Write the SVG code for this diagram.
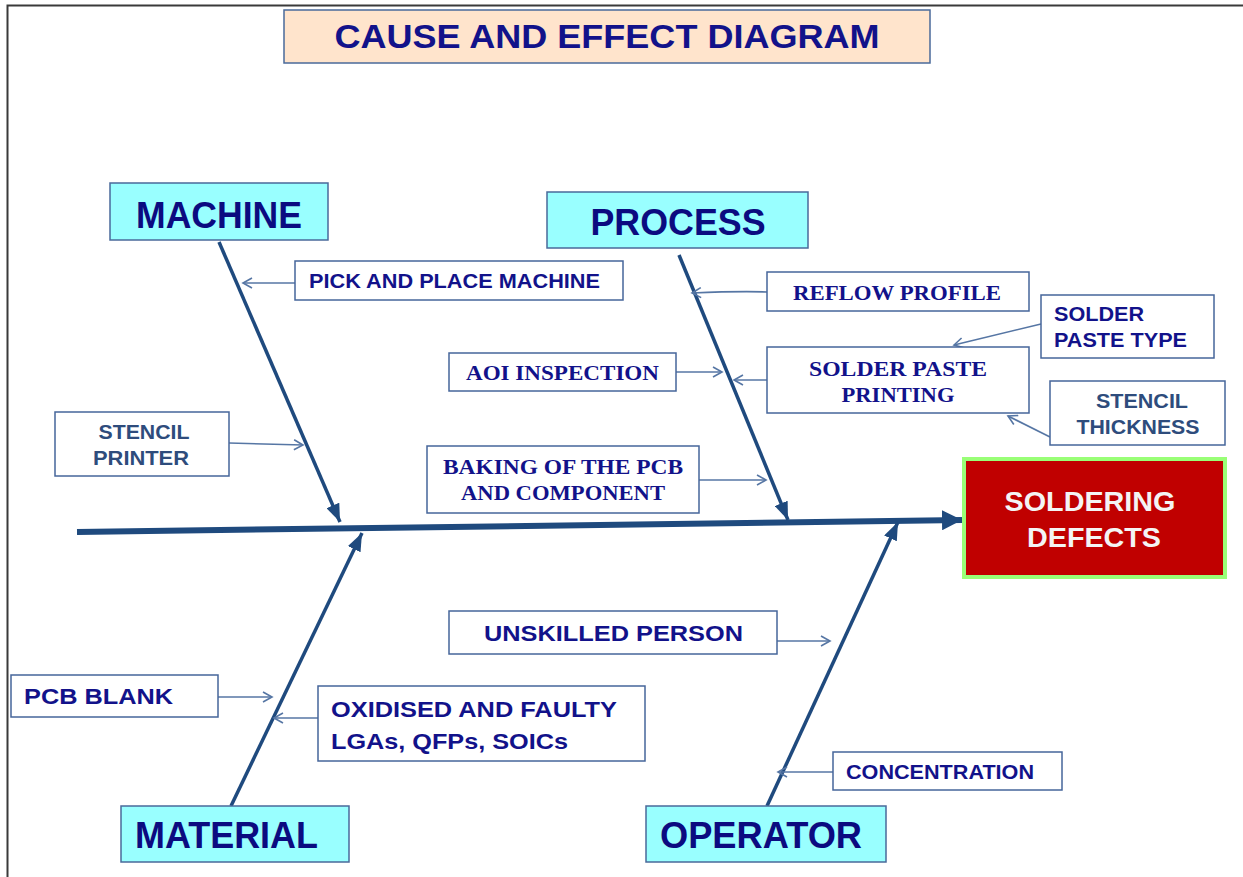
<svg xmlns="http://www.w3.org/2000/svg" width="1243" height="877" viewBox="0 0 1243 877">
<style>
.frame{fill:none;stroke:#3a3a3a;stroke-width:2}
.cat{fill:#99FFFF;stroke:#4a6a9a;stroke-width:1.5}
.box{fill:#ffffff;stroke:#46669a;stroke-width:1.5}
.catt{font-family:"Liberation Sans",Arial,sans-serif;font-weight:bold;font-size:36px;fill:#0b0b80}
.sans{font-family:"Liberation Sans",Arial,sans-serif;font-weight:bold;fill:#12128a}
.serif{font-family:"Liberation Serif","Times New Roman",serif;font-weight:bold;fill:#12128a}
.muted{fill:#2e4c7c}
.bone{stroke:#1f4a7e;stroke-width:3.5;fill:none}
.spine{stroke:#1f4a7e;stroke-width:6;fill:none}
.sub{stroke:#5676a4;stroke-width:1.6;fill:none}
</style>
<defs>
<marker id="big" markerUnits="userSpaceOnUse" markerWidth="22" markerHeight="20" refX="20" refY="10" orient="auto">
<path d="M0,0 L20,10 L0,20 Z" fill="#1f4a7e"/>
</marker>
<marker id="bn" markerUnits="userSpaceOnUse" markerWidth="20" markerHeight="14" refX="18" refY="7" orient="auto">
<path d="M0,0 L18,7 L0,14 Z" fill="#1f4a7e"/>
</marker>
<marker id="open" markerUnits="userSpaceOnUse" markerWidth="12" markerHeight="12" refX="10" refY="6" orient="auto">
<path d="M1,1 L10,6 L1,11" fill="none" stroke="#5676a4" stroke-width="1.6"/>
</marker>
</defs>
<rect width="1243" height="877" fill="#ffffff"/>
<path class="frame" d="M7.5,877 L7.5,5.5 L1243,5.5"/>

<g id="title">
<rect x="284" y="10" width="646" height="53" fill="#FFE4CC" stroke="#4a6a9a" stroke-width="1.5"/>
<text x="607" y="48" text-anchor="middle" class="sans" font-size="33" fill="#0b0b80" textLength="545" lengthAdjust="spacingAndGlyphs">CAUSE AND EFFECT DIAGRAM</text>
</g>

<g id="connectors">
<line class="spine" x1="77" y1="532" x2="962" y2="520" marker-end="url(#big)"/>
<line class="bone" x1="219" y1="242" x2="340" y2="522" marker-end="url(#bn)"/>
<line class="bone" x1="679" y1="255" x2="788" y2="520" marker-end="url(#bn)"/>
<line class="bone" x1="231" y1="806" x2="362" y2="533" marker-end="url(#bn)"/>
<line class="bone" x1="767" y1="806" x2="898" y2="522" marker-end="url(#bn)"/>
<line class="sub" x1="295" y1="283" x2="243" y2="283" marker-end="url(#open)"/>
<path class="sub" d="M767,292 Q740,291 692,293" marker-end="url(#open)"/>
<line class="sub" x1="1041" y1="324" x2="954" y2="345" marker-end="url(#open)"/>
<line class="sub" x1="676" y1="372" x2="722" y2="372" marker-end="url(#open)"/>
<line class="sub" x1="767" y1="380" x2="734" y2="380" marker-end="url(#open)"/>
<line class="sub" x1="1050" y1="437" x2="1008" y2="416" marker-end="url(#open)"/>
<line class="sub" x1="229" y1="443" x2="303" y2="445" marker-end="url(#open)"/>
<line class="sub" x1="699" y1="480" x2="766" y2="480" marker-end="url(#open)"/>
<line class="sub" x1="777" y1="641" x2="830" y2="641" marker-end="url(#open)"/>
<line class="sub" x1="218" y1="697" x2="272" y2="697" marker-end="url(#open)"/>
<line class="sub" x1="318" y1="718" x2="274" y2="718" marker-end="url(#open)"/>
<line class="sub" x1="833" y1="772" x2="778" y2="772" marker-end="url(#open)"/>
</g>

<g id="machine">
<rect class="cat" x="110" y="183" width="218" height="57"/>
<text class="catt" x="219" y="228" text-anchor="middle" textLength="166" lengthAdjust="spacingAndGlyphs">MACHINE</text>
</g>
<g id="process">
<rect class="cat" x="547" y="192" width="261" height="56"/>
<text class="catt" x="678" y="235" text-anchor="middle" textLength="175" lengthAdjust="spacingAndGlyphs">PROCESS</text>
</g>
<g id="material">
<rect class="cat" x="121" y="806" width="228" height="56"/>
<text class="catt" x="135" y="848" textLength="183" lengthAdjust="spacingAndGlyphs">MATERIAL</text>
</g>
<g id="operator">
<rect class="cat" x="646" y="806" width="240" height="56"/>
<text class="catt" x="660" y="848" textLength="202" lengthAdjust="spacingAndGlyphs">OPERATOR</text>
</g>

<g id="effect">
<rect x="964" y="459" width="261" height="118" fill="#C00000" stroke="#99FF77" stroke-width="4"/>
<text x="1090" y="511" text-anchor="middle" font-family="Liberation Sans, Arial, sans-serif" font-weight="bold" font-size="28" fill="#f4f4f4" textLength="171" lengthAdjust="spacingAndGlyphs">SOLDERING</text>
<text x="1094" y="547" text-anchor="middle" font-family="Liberation Sans, Arial, sans-serif" font-weight="bold" font-size="28" fill="#f4f4f4" textLength="134" lengthAdjust="spacingAndGlyphs">DEFECTS</text>
</g>

<g id="pick-and-place">
<rect class="box" x="295" y="261" width="328" height="39"/>
<text class="sans" x="309" y="288" font-size="21" textLength="291" lengthAdjust="spacingAndGlyphs">PICK AND PLACE MACHINE</text>
</g>
<g id="reflow-profile">
<rect class="box" x="767" y="272" width="262" height="39"/>
<text class="serif" x="793" y="300" font-size="20" textLength="208" lengthAdjust="spacingAndGlyphs">REFLOW PROFILE</text>
</g>
<g id="solder-paste-type">
<rect class="box" x="1041" y="295" width="173" height="63"/>
<text class="sans" x="1054" y="321" font-size="20" textLength="90" lengthAdjust="spacingAndGlyphs">SOLDER</text>
<text class="sans" x="1054" y="347" font-size="20" textLength="133" lengthAdjust="spacingAndGlyphs">PASTE TYPE</text>
</g>
<g id="aoi-inspection">
<rect class="box" x="449" y="353" width="227" height="38"/>
<text class="serif" x="466" y="380" font-size="20" textLength="193" lengthAdjust="spacingAndGlyphs">AOI INSPECTION</text>
</g>
<g id="solder-paste-printing">
<rect class="box" x="767" y="347" width="262" height="66"/>
<text class="serif" x="898" y="376" text-anchor="middle" font-size="20" textLength="178" lengthAdjust="spacingAndGlyphs">SOLDER PASTE</text>
<text class="serif" x="898" y="402" text-anchor="middle" font-size="20" textLength="113" lengthAdjust="spacingAndGlyphs">PRINTING</text>
</g>
<g id="stencil-thickness">
<rect class="box" x="1050" y="381" width="175" height="64"/>
<text class="sans muted" x="1142" y="408" text-anchor="middle" font-size="20" textLength="92" lengthAdjust="spacingAndGlyphs">STENCIL</text>
<text class="sans muted" x="1138" y="434" text-anchor="middle" font-size="20" textLength="123" lengthAdjust="spacingAndGlyphs">THICKNESS</text>
</g>
<g id="stencil-printer">
<rect class="box" x="55" y="412" width="174" height="64"/>
<text class="sans muted" x="144" y="439" text-anchor="middle" font-size="20" textLength="91" lengthAdjust="spacingAndGlyphs">STENCIL</text>
<text class="sans muted" x="141" y="465" text-anchor="middle" font-size="20" textLength="96" lengthAdjust="spacingAndGlyphs">PRINTER</text>
</g>
<g id="baking">
<rect class="box" x="427" y="446" width="272" height="67"/>
<text class="serif" x="563" y="474" text-anchor="middle" font-size="20" textLength="240" lengthAdjust="spacingAndGlyphs">BAKING OF THE PCB</text>
<text class="serif" x="563" y="500" text-anchor="middle" font-size="20" textLength="204" lengthAdjust="spacingAndGlyphs">AND COMPONENT</text>
</g>
<g id="unskilled-person">
<rect class="box" x="449" y="611" width="328" height="43"/>
<text class="sans" x="484" y="641" font-size="22" textLength="259" lengthAdjust="spacingAndGlyphs">UNSKILLED PERSON</text>
</g>
<g id="pcb-blank">
<rect class="box" x="11" y="675" width="207" height="42"/>
<text class="sans" x="24" y="704" font-size="22" textLength="149" lengthAdjust="spacingAndGlyphs">PCB BLANK</text>
</g>
<g id="oxidised">
<rect class="box" x="318" y="686" width="327" height="75"/>
<text class="sans" x="331" y="717" font-size="22" textLength="286" lengthAdjust="spacingAndGlyphs">OXIDISED AND FAULTY</text>
<text class="sans" x="331" y="749" font-size="22" textLength="237" lengthAdjust="spacingAndGlyphs">LGAs, QFPs, SOICs</text>
</g>
<g id="concentration">
<rect class="box" x="833" y="752" width="229" height="38"/>
<text class="sans" x="846" y="779" font-size="20" textLength="188" lengthAdjust="spacingAndGlyphs">CONCENTRATION</text>
</g>
</svg>
